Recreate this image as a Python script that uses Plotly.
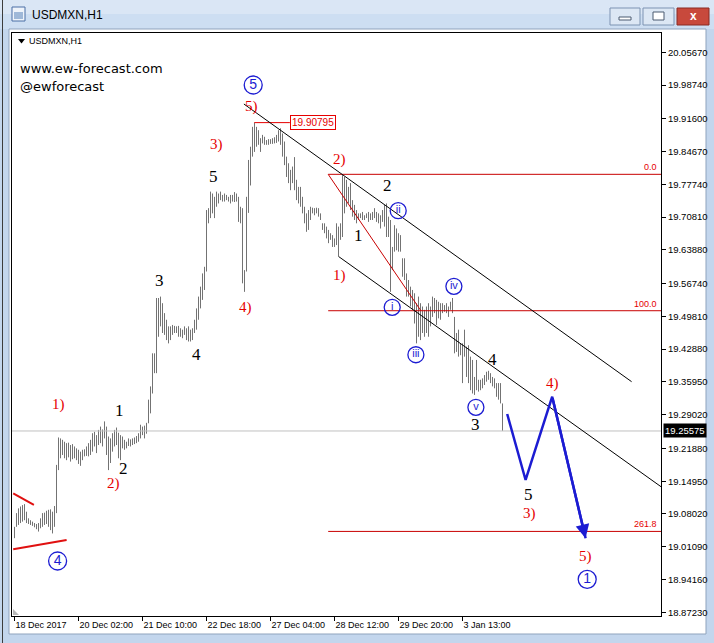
import plotly.graph_objects as go

# ---------------- data ----------------
date_labels = ["18 Dec 2017", "20 Dec 02:00", "21 Dec 10:00", "22 Dec 18:00",
               "27 Dec 04:00", "28 Dec 12:00", "29 Dec 20:00", "3 Jan 13:00"]
date_bars = [0, 32, 64, 96, 128, 160, 192, 224]

price_ticks = [20.05670, 19.98740, 19.91600, 19.84670, 19.77740, 19.70810,
               19.63880, 19.56740, 19.49810, 19.42880, 19.35950, 19.29020,
               19.21880, 19.14950, 19.08020, 19.01090, 18.94160, 18.87230]

bar_high = [
    19.053, 19.082, 19.092, 19.096, 19.099, 19.101, 19.085, 19.071, 19.067, 19.064,
    19.061, 19.059, 19.061, 19.071, 19.082, 19.083, 19.087, 19.089, 19.090, 19.085,
    19.097, 19.184, 19.242, 19.240, 19.237, 19.233, 19.230, 19.231, 19.226, 19.228,
    19.223, 19.219, 19.216, 19.212, 19.216, 19.217, 19.223, 19.230, 19.237, 19.251,
    19.254, 19.247, 19.258, 19.265, 19.259, 19.276, 19.265, 19.244, 19.240, 19.251,
    19.258, 19.263, 19.252, 19.247, 19.244, 19.237, 19.233, 19.240, 19.238, 19.240,
    19.242, 19.245, 19.251, 19.269, 19.265, 19.267, 19.273, 19.322, 19.350, 19.420,
    19.420, 19.537, 19.537, 19.540, 19.526, 19.505, 19.491, 19.477, 19.477, 19.480,
    19.478, 19.477, 19.478, 19.473, 19.470, 19.477, 19.473, 19.477, 19.470, 19.473,
    19.491, 19.515, 19.540, 19.561, 19.589, 19.603, 19.723, 19.727, 19.762, 19.758,
    19.751, 19.762, 19.758, 19.762, 19.755, 19.758, 19.755, 19.751, 19.755, 19.755,
    19.761, 19.758, 19.751, 19.730, 19.727, 19.596, 19.751, 19.829, 19.857, 19.899,
    19.908, 19.899, 19.892, 19.875, 19.882, 19.878, 19.871, 19.873, 19.873, 19.875,
    19.877, 19.882, 19.892, 19.896, 19.885, 19.868, 19.836, 19.822, 19.808, 19.815,
    19.835, 19.787, 19.772, 19.772, 19.751, 19.730, 19.716, 19.723, 19.730, 19.728,
    19.727, 19.728, 19.727, 19.716, 19.695, 19.695, 19.688, 19.681, 19.674, 19.670,
    19.663, 19.695, 19.688, 19.695, 19.797, 19.793, 19.787, 19.772, 19.780, 19.744,
    19.734, 19.723, 19.716, 19.716, 19.719, 19.712, 19.716, 19.719, 19.716, 19.719,
    19.727, 19.719, 19.716, 19.712, 19.723, 19.734, 19.737, 19.709, 19.702, 19.645,
    19.691, 19.684, 19.674, 19.670, 19.621, 19.621, 19.589, 19.575, 19.561, 19.554,
    19.547, 19.526, 19.540, 19.526, 19.519, 19.512, 19.519, 19.526, 19.519, 19.540,
    19.537, 19.533, 19.529, 19.526, 19.526, 19.522, 19.526, 19.519, 19.529, 19.537,
    19.497, 19.463, 19.470, 19.441, 19.441, 19.470, 19.434, 19.437, 19.413, 19.406,
    19.370, 19.406, 19.364, 19.364, 19.367, 19.374, 19.381, 19.383, 19.378, 19.370,
    19.367, 19.357, 19.357, 19.357, 19.314,
]
bar_low = [
    19.029, 19.053, 19.057, 19.061, 19.064, 19.067, 19.061, 19.059, 19.057, 19.055,
    19.052, 19.048, 19.043, 19.050, 19.053, 19.057, 19.059, 19.053, 19.046, 19.039,
    19.053, 19.082, 19.173, 19.198, 19.205, 19.198, 19.194, 19.200, 19.191, 19.196,
    19.198, 19.194, 19.186, 19.182, 19.194, 19.202, 19.203, 19.202, 19.205, 19.212,
    19.223, 19.209, 19.226, 19.230, 19.223, 19.240, 19.205, 19.173, 19.188, 19.212,
    19.223, 19.226, 19.198, 19.194, 19.219, 19.216, 19.219, 19.224, 19.223, 19.226,
    19.228, 19.230, 19.233, 19.240, 19.247, 19.240, 19.250, 19.272, 19.293, 19.335,
    19.378, 19.378, 19.455, 19.477, 19.463, 19.459, 19.448, 19.441, 19.448, 19.459,
    19.463, 19.463, 19.455, 19.455, 19.452, 19.459, 19.448, 19.445, 19.445, 19.448,
    19.463, 19.470, 19.491, 19.515, 19.533, 19.554, 19.593, 19.695, 19.706, 19.716,
    19.706, 19.730, 19.737, 19.744, 19.741, 19.741, 19.744, 19.741, 19.737, 19.741,
    19.740, 19.741, 19.698, 19.695, 19.568, 19.550, 19.593, 19.717, 19.775, 19.836,
    19.846, 19.857, 19.861, 19.846, 19.864, 19.861, 19.861, 19.861, 19.863, 19.863,
    19.864, 19.865, 19.868, 19.861, 19.836, 19.818, 19.793, 19.780, 19.765, 19.780,
    19.765, 19.744, 19.737, 19.730, 19.716, 19.695, 19.677, 19.681, 19.702, 19.716,
    19.712, 19.716, 19.709, 19.702, 19.681, 19.674, 19.663, 19.653, 19.660, 19.645,
    19.645, 19.649, 19.624, 19.660, 19.666, 19.716, 19.730, 19.737, 19.723, 19.709,
    19.702, 19.695, 19.702, 19.706, 19.702, 19.702, 19.706, 19.698, 19.702, 19.702,
    19.706, 19.698, 19.695, 19.684, 19.698, 19.688, 19.666, 19.666, 19.550, 19.596,
    19.635, 19.638, 19.635, 19.635, 19.582, 19.575, 19.540, 19.540, 19.519, 19.512,
    19.483, 19.441, 19.455, 19.448, 19.463, 19.455, 19.463, 19.455, 19.477, 19.497,
    19.505, 19.480, 19.494, 19.491, 19.505, 19.508, 19.505, 19.497, 19.512, 19.505,
    19.420, 19.423, 19.413, 19.416, 19.357, 19.413, 19.370, 19.357, 19.342, 19.335,
    19.332, 19.342, 19.339, 19.342, 19.346, 19.353, 19.360, 19.364, 19.357, 19.350,
    19.346, 19.328, 19.322, 19.314, 19.256,
]

last_price = 19.25575
swing_high = 19.90795
swing_high_bars = [119.9, 137.7]

fib_names = ["0.0", "100.0", "261.8"]
fib_prices = [19.7986, 19.5101, 19.0433]
fib_start_bar = 156.85
fib_trend_bars = [156.85, 203.2]
fib_trend_prices = [19.7986, 19.5101]

channel_upper_bars = [114.7, 308.55]
channel_upper_prices = [19.9473, 19.3600]
channel_lower_bars = [162.2, 323.25]
channel_lower_prices = [19.6243, 19.1379]

wedge_upper_bars = [-0.65, 9.7]
wedge_upper_prices = [19.1239, 19.0992]
wedge_lower_bars = [-0.65, 26.05]
wedge_lower_prices = [19.0055, 19.0252]

forecast_bars = [246.35, 255.55, 268.85, 285.55]
forecast_prices = [19.2916, 19.1521, 19.3282, 19.0287]

# ---------------- geometry / styles ----------------
W, H = 714, 643
L, R, T, B = 12, 661, 33, 616
X0 = -1.25
X1 = X0 + (R - L) / 2.0
Y0, Y1 = 18.8644, 20.0975

RED = "#e60000"
FIBRED = "#c80000"
BLUE = "#1c1cd2"
SERIF = "Liberation Serif, Times New Roman, serif"
SANS = "Liberation Sans, Arial, sans-serif"


def px(x):
    return (x - L) / (R - L)


def py(y):
    return (B - y) / (B - T)


fig = go.Figure()

# bars
xs, ys = [], []
for i, (h, l) in enumerate(zip(bar_high, bar_low)):
    xs += [i, i, None]
    ys += [l, h, None]
fig.add_trace(go.Scatter(x=xs, y=ys, mode="lines",
                         line=dict(color="#737373", width=1),
                         hoverinfo="skip"))

# current price line
fig.add_trace(go.Scatter(x=[X0, X1], y=[last_price, last_price], mode="lines",
                         line=dict(color="#c0c0c0", width=1), hoverinfo="skip"))

# fib lines
for p in fib_prices:
    fig.add_trace(go.Scatter(x=[fib_start_bar, X1], y=[p, p], mode="lines",
                             line=dict(color=FIBRED, width=1), hoverinfo="skip"))
fig.add_trace(go.Scatter(x=fib_trend_bars, y=fib_trend_prices, mode="lines",
                         line=dict(color=FIBRED, width=1), hoverinfo="skip"))

# swing high line
fig.add_trace(go.Scatter(x=swing_high_bars, y=[swing_high, swing_high], mode="lines",
                         line=dict(color=RED, width=1), hoverinfo="skip"))

# channel
fig.add_trace(go.Scatter(x=channel_upper_bars, y=channel_upper_prices, mode="lines",
                         line=dict(color="black", width=1), hoverinfo="skip"))
fig.add_trace(go.Scatter(x=channel_lower_bars, y=channel_lower_prices, mode="lines",
                         line=dict(color="black", width=1), hoverinfo="skip"))

# wedge (red) lines
fig.add_trace(go.Scatter(x=wedge_upper_bars, y=wedge_upper_prices, mode="lines",
                         line=dict(color="#e01010", width=2), hoverinfo="skip"))
fig.add_trace(go.Scatter(x=wedge_lower_bars, y=wedge_lower_prices, mode="lines",
                         line=dict(color="#e01010", width=2), hoverinfo="skip"))

# forecast path
fig.add_trace(go.Scatter(x=forecast_bars, y=forecast_prices, mode="lines",
                         line=dict(color=BLUE, width=2.5), hoverinfo="skip"))
fig.add_annotation(x=forecast_bars[-1], y=forecast_prices[-1],
                   ax=forecast_bars[-2], ay=forecast_prices[-2],
                   xref="x", yref="y", axref="x", ayref="y",
                   showarrow=True, arrowhead=2, arrowsize=1.1, arrowwidth=2.5,
                   arrowcolor=BLUE, text="")

# circled wave labels
big_circles = [("5", 119.35, 19.9875), ("4", 21.55, 18.9807), ("1", 286.35, 18.942)]
small_circles = [("ii", 191.85, 19.7216), ("i", 188.85, 19.5173), ("iii", 200.7, 19.417),
                 ("iv", 219.7, 19.5617), ("v", 230.7, 19.3058)]
fig.add_trace(go.Scatter(
    x=[c[1] for c in big_circles], y=[c[2] for c in big_circles],
    mode="markers+text", text=[c[0] for c in big_circles], textposition="middle center",
    textfont=dict(family=SANS, size=14, color=BLUE),
    marker=dict(symbol="circle-open", size=18, color=BLUE, line=dict(width=1.3, color=BLUE)),
    hoverinfo="skip", cliponaxis=False))
fig.add_trace(go.Scatter(
    x=[c[1] for c in small_circles], y=[c[2] for c in small_circles],
    mode="markers+text", text=[c[0] for c in small_circles], textposition="middle center",
    textfont=dict(family=SANS, size=11, color=BLUE),
    marker=dict(symbol="circle-open", size=16, color=BLUE, line=dict(width=1.3, color=BLUE)),
    hoverinfo="skip", cliponaxis=False))

# plain wave labels
wave_labels = [
    ("5)", RED, 118.5, 19.9416), ("3)", RED, 101.2, 19.8627), ("5", "black", 99.7, 19.795),
    ("3", "black", 72.7, 19.575), ("4", "black", 91.2, 19.4185), ("4)", RED, 115.7, 19.5173),
    ("1)", RED, 22.2, 19.3107), ("1", "black", 52.7, 19.2986), ("2", "black", 54.7, 19.1768),
    ("2)", RED, 49.7, 19.1451), ("2)", RED, 162.7, 19.831), ("2", "black", 186.5, 19.776),
    ("1", "black", 171.9, 19.6702), ("1)", RED, 162.7, 19.5856), ("4", "black", 239.05, 19.4059),
    ("3", "black", 230.7, 19.2684), ("4)", RED, 268.85, 19.3566), ("5", "black", 256.85, 19.1218),
    ("3)", RED, 257.7, 19.0816), ("5)", RED, 285.7, 18.9898),
]
for txt, col, xb, yp in wave_labels:
    fig.add_annotation(x=xb, y=yp, xref="x", yref="y", text=txt, showarrow=False,
                       font=dict(family=SERIF, size=17 if col == "black" else 15, color=col),
                       xanchor="center", yanchor="middle")

# swing-high price box
fig.add_annotation(x=swing_high_bars[1], y=swing_high, xref="x", yref="y",
                   text=f"{swing_high:.5f}", showarrow=False, xanchor="left", yanchor="middle",
                   font=dict(family=SANS, size=10, color=RED), bgcolor="white",
                   bordercolor=RED, borderwidth=1, borderpad=1)

# fib level labels
for name, p in zip(fib_names, fib_prices):
    fig.add_annotation(x=px(659), y=p, xref="paper", yref="y", text=name, showarrow=False,
                       xanchor="right", yanchor="bottom",
                       font=dict(family=SANS, size=9, color=RED))

# current price box on axis
fig.add_annotation(x=px(663), y=last_price, xref="paper", yref="y",
                   text=f"{last_price:.5f}", showarrow=False, xanchor="left", yanchor="middle",
                   font=dict(family=SANS, size=9.5, color="white"), bgcolor="black",
                   borderpad=1)

# texts in chart
fig.add_annotation(x=px(18), y=py(68), xref="paper", yref="paper", text="www.ew-forecast.com",
                   showarrow=False, xanchor="left", yanchor="middle",
                   font=dict(family="DejaVu Sans, Verdana, sans-serif", size=13, color="black"))
fig.add_annotation(x=px(18), y=py(86), xref="paper", yref="paper", text="@ewforecast",
                   showarrow=False, xanchor="left", yanchor="middle",
                   font=dict(family="DejaVu Sans, Verdana, sans-serif", size=13, color="black"))
fig.add_annotation(x=px(27), y=py(41.5), xref="paper", yref="paper", text="USDMXN,H1",
                   showarrow=False, xanchor="left", yanchor="middle",
                   font=dict(family=SANS, size=9, color="black"))
# window title
fig.add_annotation(x=px(30), y=py(15.5), xref="paper", yref="paper", text="USDMXN,H1",
                   showarrow=False, xanchor="left", yanchor="middle",
                   font=dict(family=SANS, size=12, color="black"))
fig.add_annotation(x=px(693), y=py(16.5), xref="paper", yref="paper", text="<b>x</b>",
                   showarrow=False, xanchor="center", yanchor="middle",
                   font=dict(family=SANS, size=12, color="white"))

# ---------------- window chrome (shapes) ----------------
shapes = []


def rect(x0, y0, x1, y1, fill, line=None, lw=1, layer="below"):
    shapes.append(dict(type="rect", xref="paper", yref="paper",
                       x0=px(x0), x1=px(x1), y0=py(y1), y1=py(y0),
                       fillcolor=fill, line=dict(color=line or fill, width=lw if line else 0),
                       layer=layer))


def pline(x0, y0, x1, y1, color, lw=1, layer="below"):
    shapes.append(dict(type="line", xref="paper", yref="paper",
                       x0=px(x0), x1=px(x1), y0=py(y0), y1=py(y1),
                       line=dict(color=color, width=lw), layer=layer))


rect(0, 0, 714, 14, "#dae6f5")
rect(0, 14, 714, 29, "#cddef2")
rect(9, 29, 706, 634, "white", line="#8fa3bd")
pline(2.5, 0, 2.5, 643, "#3c3c3c")
# window icon
rect(12, 7, 25, 21, "#eef3fa", line="#4a6fa5")
rect(14, 12, 23, 19, "#9fb8d8")
# buttons
rect(610, 8, 640, 25, "#dce7f4", line="#7d93b2")
rect(619, 17, 631, 20, "white", line="#4a5a70")
rect(643, 8, 674, 25, "#dce7f4", line="#7d93b2")
rect(653, 12, 664, 20, "white", line="#4a5a70")
rect(677, 8, 709, 25, "#c8493c", line="#8a2a22")
# small scroll marker
shapes.append(dict(type="path", xref="paper", yref="paper",
                   path=f"M {px(13)} {py(609)} L {px(13)} {py(615)} L {px(19)} {py(615)} Z",
                   fillcolor="#b8b8b8", line=dict(width=0), layer="above"))
# small triangle next to label
shapes.append(dict(type="path", xref="paper", yref="paper",
                   path=f"M {px(18)} {py(39)} L {px(25)} {py(39)} L {px(21.5)} {py(43.5)} Z",
                   fillcolor="black", line=dict(width=0), layer="above"))

fig.update_layout(
    width=W, height=H,
    margin=dict(l=L, r=W - R, t=T, b=H - B, autoexpand=False),
    paper_bgcolor="#c3d6ed", plot_bgcolor="white",
    showlegend=False, shapes=shapes,
    xaxis=dict(range=[X0, X1], tickvals=date_bars, ticktext=date_labels,
               ticks="outside", ticklen=4, tickcolor="black", tickwidth=1,
               showline=True, linecolor="black", linewidth=1, mirror=True,
               showgrid=False, zeroline=False, ticklabelposition="outside right",
               tickfont=dict(family=SANS, size=9, color="black")),
    yaxis=dict(range=[Y0, Y1], side="right", tickvals=price_ticks,
               ticktext=[f"{v:.5f}" for v in price_ticks],
               ticks="outside", ticklen=4, tickcolor="black", tickwidth=1,
               showline=True, linecolor="black", linewidth=1, mirror=True,
               showgrid=False, zeroline=False,
               tickfont=dict(family=SANS, size=9.5, color="black")),
)

fig.write_html("out.html", config={"displayModeBar": False},
               post_script="document.body.style.margin='0';document.body.style.overflow='hidden';")
